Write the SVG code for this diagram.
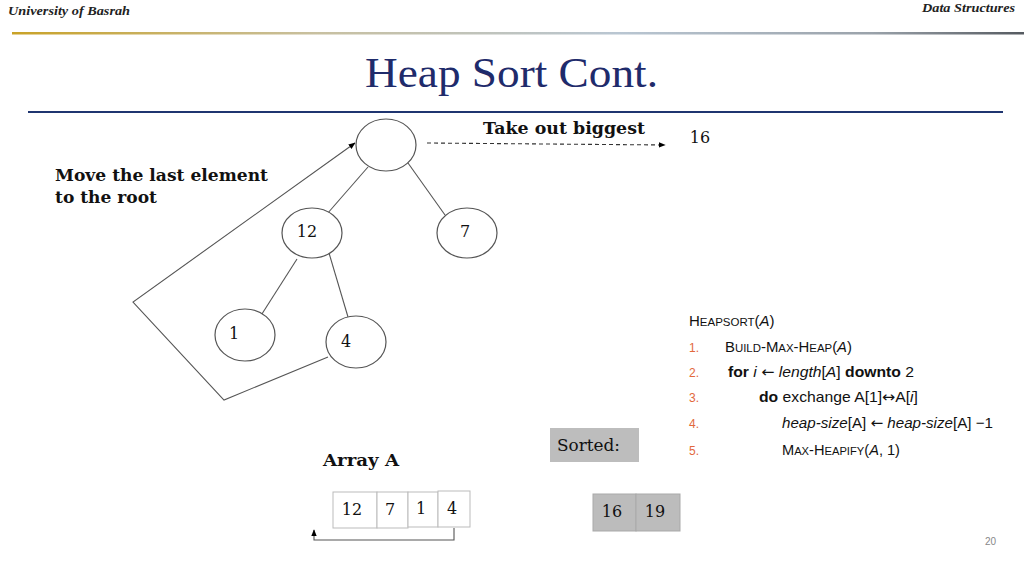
<svg xmlns="http://www.w3.org/2000/svg" width="1024" height="576" viewBox="0 0 1024 576">
<defs>
<linearGradient id="hdr" x1="0" y1="0" x2="1" y2="0">
<stop offset="0" stop-color="#C9A227"/>
<stop offset="0.3" stop-color="#C8C0A0"/>
<stop offset="0.6" stop-color="#B9C6D2"/>
<stop offset="0.85" stop-color="#9AA2AA"/>
<stop offset="1" stop-color="#555A60"/>
</linearGradient>
<marker id="ah" viewBox="0 0 10 10" refX="9" refY="5" markerWidth="7" markerHeight="7" orient="auto-start-reverse" markerUnits="userSpaceOnUse">
<path d="M0,1 L10,5 L0,9 z" fill="#000"/>
</marker>
<style>
.node ellipse{fill:#fff;stroke:#555;stroke-width:1.2}
.num{font-family:"DejaVu Serif","Liberation Serif",serif;font-size:16px;fill:#111;text-anchor:middle}
.edge{stroke:#555;stroke-width:1.1;fill:none}
.bold{font-family:"DejaVu Serif","Liberation Serif",serif;font-weight:bold;font-size:17px;fill:#111}
.code{font-family:"Liberation Sans","Noto Sans",sans-serif;font-size:15px;fill:#111}
.sc{font-size:11.5px}
.it{font-style:italic}
.b{font-weight:bold}
.arr{font-family:"DejaVu Sans",sans-serif;font-size:15px}
.ln{font-family:"Liberation Sans","Noto Sans",sans-serif;font-size:12px;fill:#E2683C}
.cell{fill:#fff;stroke:#BBBBBB;stroke-width:1}
.gcell{fill:#BCBCBC;stroke:#A9A9A9;stroke-width:1}
</style>
</defs>
<rect width="1024" height="576" fill="#fff"/>
<g id="header">
<text x="8" y="15" font-family="'Liberation Serif',serif" font-style="italic" font-weight="bold" font-size="12" fill="#222" textLength="122" lengthAdjust="spacingAndGlyphs">University of Basrah</text>
<text x="922" y="12" font-family="'Liberation Serif',serif" font-style="italic" font-weight="bold" font-size="12" fill="#222" textLength="93" lengthAdjust="spacingAndGlyphs">Data Structures</text>
<rect x="12" y="32" width="1012" height="2.5" fill="url(#hdr)"/>
<text x="365" y="87" font-family="'Liberation Serif',serif" font-size="43" fill="#1F2B6B" textLength="293" lengthAdjust="spacingAndGlyphs">Heap Sort Cont.</text>
<line x1="28" y1="112" x2="1003" y2="112" stroke="#1F3570" stroke-width="2.2"/>
<text x="985" y="545" font-family="'Liberation Sans',sans-serif" font-size="10" fill="#888">20</text>
</g>
<g id="connectors">
<line class="edge" x1="368" y1="167" x2="327" y2="214"/>
<line class="edge" x1="408" y1="163" x2="445" y2="215"/>
<line class="edge" x1="297" y1="259" x2="260" y2="317"/>
<line class="edge" x1="329" y1="253" x2="348" y2="317"/>
<polyline class="edge" points="328,357 224,400 133,302 355,143" stroke="#333" marker-end="url(#ah)"/>
<line x1="427" y1="143" x2="665" y2="145" stroke="#333" stroke-width="1.1" stroke-dasharray="4,3" marker-end="url(#ah)"/>
<polyline class="edge" points="454,528 454,540 314,540 314,530" stroke="#333" marker-end="url(#ah)"/>
</g>
<g id="node-root" class="node"><ellipse cx="386" cy="145" rx="30" ry="26"/></g>
<g id="node-12" class="node"><ellipse cx="312" cy="233" rx="30" ry="25"/><text class="num" x="307" y="237">12</text></g>
<g id="node-7" class="node"><ellipse cx="467" cy="233" rx="30" ry="25"/><text class="num" x="465" y="237">7</text></g>
<g id="node-1" class="node"><ellipse cx="245" cy="335" rx="30" ry="26"/><text class="num" x="234" y="339">1</text></g>
<g id="node-4" class="node"><ellipse cx="356" cy="342" rx="30" ry="26"/><text class="num" x="346" y="347">4</text></g>
<g id="label-take">
<text class="bold" x="483" y="134" textLength="162" lengthAdjust="spacingAndGlyphs">Take out biggest</text>
<text class="num" x="700" y="143">16</text>
</g>
<g id="label-move">
<text class="bold" x="55" y="181" textLength="213" lengthAdjust="spacingAndGlyphs">Move the last element</text>
<text class="bold" x="55" y="203" textLength="102" lengthAdjust="spacingAndGlyphs">to the root</text>
</g>
<g id="array-a">
<text class="bold" x="323" y="466" textLength="76" lengthAdjust="spacingAndGlyphs">Array A</text>
<rect class="cell" x="333" y="492" width="44" height="36"/>
<rect class="cell" x="377" y="492" width="31" height="36"/>
<rect class="cell" x="408" y="492" width="30" height="35"/>
<rect class="cell" x="438" y="491" width="32" height="36"/>
<text class="num" x="352" y="515">12</text>
<text class="num" x="390" y="515">7</text>
<text class="num" x="421" y="514">1</text>
<text class="num" x="452" y="514">4</text>
</g>
<g id="sorted">
<rect x="550" y="428" width="89" height="34" fill="#BDBDBD"/>
<text x="557" y="451" font-family="'DejaVu Serif','Liberation Serif',serif" font-size="17" fill="#111" textLength="63" lengthAdjust="spacingAndGlyphs">Sorted:</text>
<rect class="gcell" x="593" y="494" width="43" height="37"/>
<rect class="gcell" x="636" y="494" width="44" height="37"/>
<text class="num" x="612" y="517">16</text>
<text class="num" x="655" y="517">19</text>
</g>
<g id="pseudocode">
<text class="code" x="689" y="326" font-size="14">H<tspan class="sc" font-size="11">EAPSORT</tspan>(<tspan class="it">A</tspan>)</text>
<text class="ln" x="689" y="352">1.</text>
<text class="ln" x="689" y="377">2.</text>
<text class="ln" x="689" y="402">3.</text>
<text class="ln" x="689" y="428">4.</text>
<text class="ln" x="689" y="455">5.</text>
<text class="code" x="725" y="352" textLength="127" lengthAdjust="spacingAndGlyphs">B<tspan class="sc">UILD</tspan>-M<tspan class="sc">AX</tspan>-H<tspan class="sc">EAP</tspan>(<tspan class="it">A</tspan>)</text>
<text class="code" x="728" y="377" textLength="186" lengthAdjust="spacingAndGlyphs"><tspan class="b">for</tspan> <tspan class="it">i</tspan> <tspan class="arr">←</tspan> <tspan class="it">length</tspan>[<tspan class="it">A</tspan>]  <tspan class="b">downto</tspan> 2</text>
<text class="code" x="759" y="402" textLength="159" lengthAdjust="spacingAndGlyphs"><tspan class="b">do</tspan> exchange A[1]<tspan class="arr">↔</tspan>A[<tspan class="it">i</tspan>]</text>
<text class="code" x="782" y="428" textLength="211" lengthAdjust="spacingAndGlyphs"><tspan class="it">heap-size</tspan>[A] <tspan class="arr">←</tspan> <tspan class="it">heap-size</tspan>[A] −1</text>
<text class="code" x="782" y="455" textLength="118" lengthAdjust="spacingAndGlyphs">M<tspan class="sc">AX</tspan>-H<tspan class="sc">EAPIFY</tspan>(<tspan class="it">A</tspan>, 1)</text>
</g>
</svg>
